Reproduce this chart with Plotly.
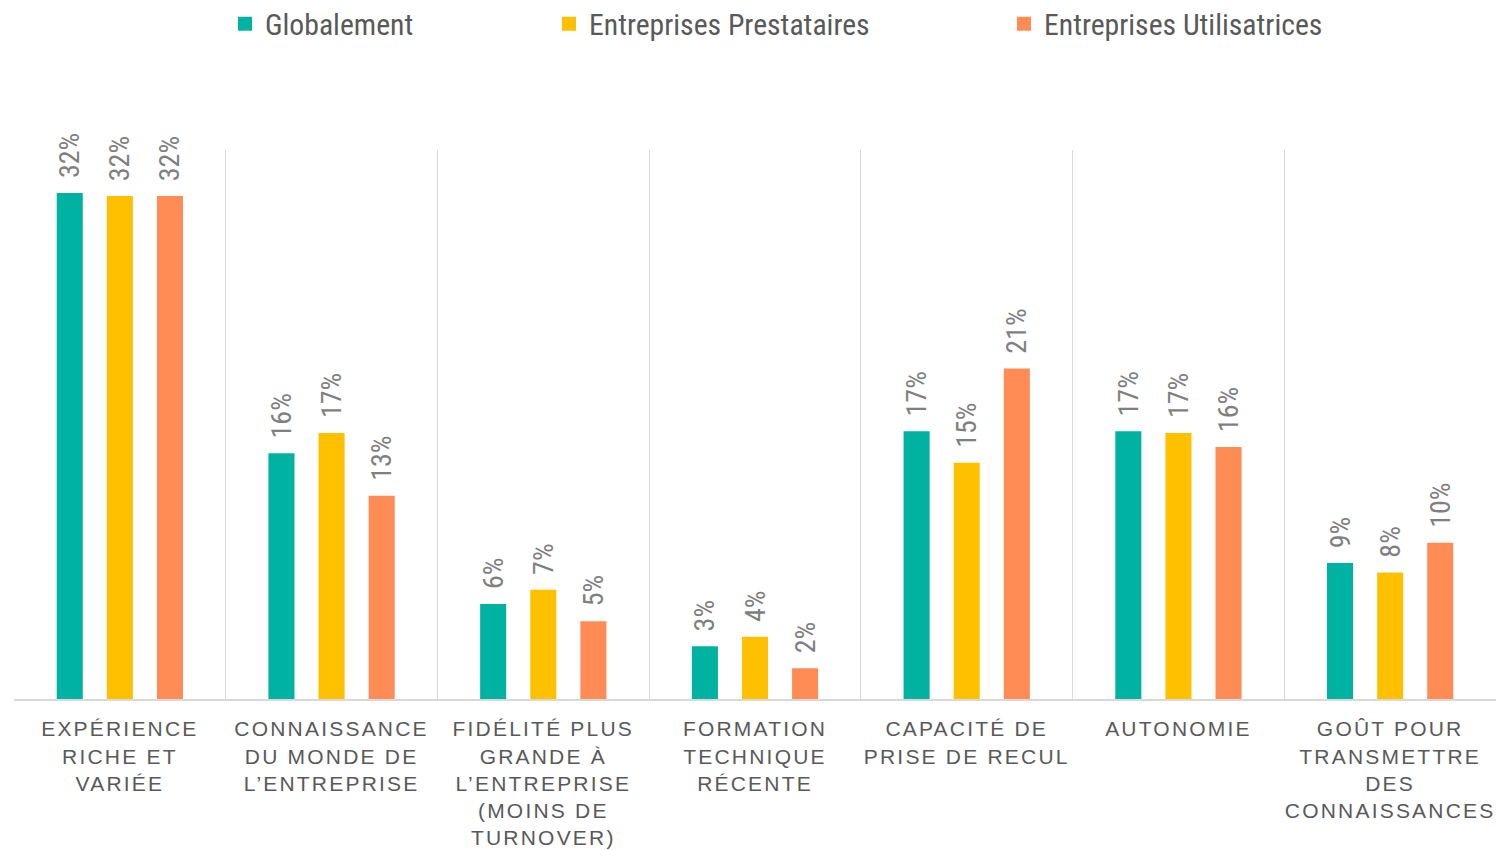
import plotly.graph_objects as go

# Categories (tick labels, with manual line breaks)
categories = [
    "EXPÉRIENCE<br>RICHE ET<br>VARIÉE",
    "CONNAISSANCE<br>DU MONDE DE<br>L’ENTREPRISE",
    "FIDÉLITÉ PLUS<br>GRANDE À<br>L’ENTREPRISE<br>(MOINS DE<br>TURNOVER)",
    "FORMATION<br>TECHNIQUE<br>RÉCENTE",
    "CAPACITÉ DE<br>PRISE DE RECUL",
    "AUTONOMIE",
    "GOÛT POUR<br>TRANSMETTRE<br>DES<br>CONNAISSANCES",
]

# Share of answers per series
globalement = [0.322, 0.156, 0.060, 0.033, 0.170, 0.170, 0.086]
prestataires = [0.320, 0.169, 0.069, 0.039, 0.150, 0.169, 0.080]
utilisatrices = [0.320, 0.129, 0.049, 0.019, 0.210, 0.160, 0.099]

series_names = ["Globalement", "Entreprises Prestataires", "Entreprises Utilisatrices"]
series_values = [globalement, prestataires, utilisatrices]
colors = ["#00B2A2", "#FFC000", "#FF8B55"]
legend_ids = ["legend", "legend2", "legend3"]

NARROW = "Liberation Sans Narrow, Arial Narrow, Roboto Condensed, sans-serif"
REGULAR = "Liberation Sans, Arial, sans-serif"

fig = go.Figure()
for name, vals, col, lg in zip(series_names, series_values, colors, legend_ids):
    fig.add_trace(go.Bar(
        name=name,
        x=categories,
        y=vals,
        # same-colour outline also enlarges the legend swatch
        marker=dict(color=col, line=dict(width=2, color=col)),
        texttemplate="\u00a0\u00a0%{y:.0%}",
        textposition="outside",
        textangle=-90,
        constraintext="none",
        cliponaxis=False,
        textfont=dict(family=NARROW, size=28, color="#7F7F7F"),
        hoverinfo="skip",
        legend=lg,
        showlegend=True,
    ))

legend_common = dict(
    xref="container", yref="container", y=1 - 24 / 850, yanchor="middle",
    xanchor="left", orientation="h", bgcolor="rgba(0,0,0,0)",
    font=dict(family=NARROW, size=29.7, color="#595959"),
)

fig.update_layout(
    template="none",
    width=1496,
    height=850,
    margin=dict(l=14, r=0, t=150, b=151),
    paper_bgcolor="white",
    plot_bgcolor="white",
    showlegend=True,
    barmode="group",
    bargap=0.29,
    bargroupgap=0.52,
    legend=dict(x=225 / 1496, **legend_common),
    legend2=dict(x=549 / 1496, **legend_common),
    legend3=dict(x=1004 / 1496, **legend_common),
    xaxis=dict(
        type="category",
        tickson="boundaries",
        showgrid=True,
        gridcolor="#D9D9D9",
        gridwidth=1,
        showline=True,
        linecolor="#D9D9D9",
        linewidth=2,
        ticks="",
        ticklabelstandoff=10,
        automargin=False,
        tickfont=dict(family=REGULAR, size=21, color="#595959"),
    ),
    yaxis=dict(
        visible=False,
        range=[0, 0.35],
        showgrid=False,
        zeroline=False,
        automargin=False,
    ),
)

# Widen the letter spacing of the category labels
letter_spacing_js = (
    "var s=document.createElement('style');"
    "s.textContent='.xtick text{letter-spacing:2.2px;}';"
    "document.head.appendChild(s);"
)

fig.write_html("out.html", post_script=letter_spacing_js)
